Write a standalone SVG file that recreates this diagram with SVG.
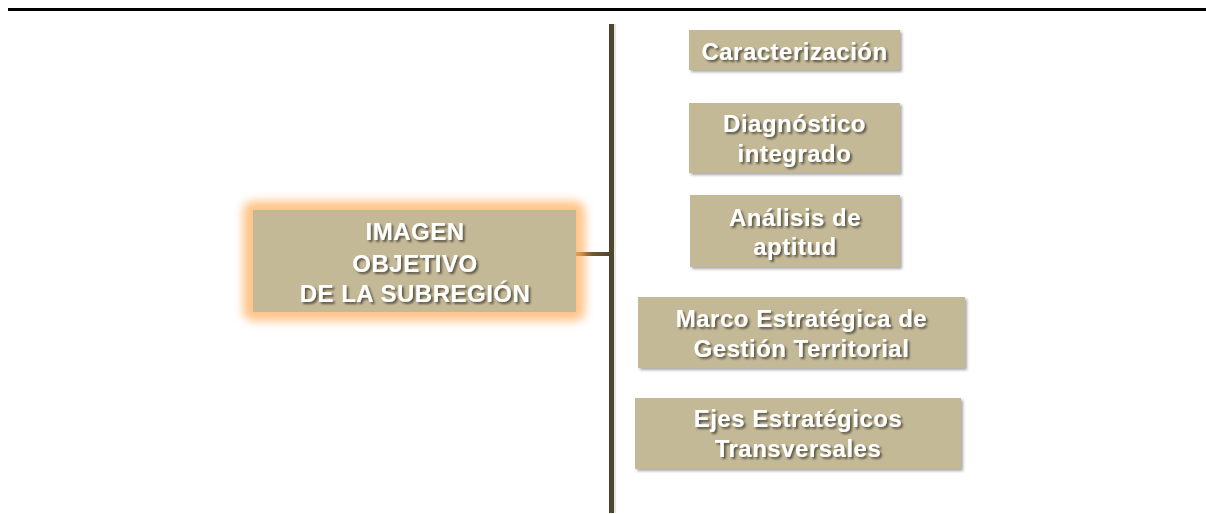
<svg xmlns="http://www.w3.org/2000/svg" width="1206" height="514" viewBox="0 0 1206 514">
<defs>
<style>
.box{fill:#c4b996;}
.t{font-family:"Liberation Sans",Arial,sans-serif;font-weight:bold;font-size:24px;letter-spacing:0.5px;fill:#ffffff;text-anchor:middle;filter:url(#ts);}
</style>
<filter id="bs" x="-10%" y="-20%" width="125%" height="150%">
<feGaussianBlur in="SourceAlpha" stdDeviation="1.5"/>
<feOffset dx="2" dy="2" result="o"/>
<feFlood flood-color="#000" flood-opacity="0.35"/>
<feComposite in2="o" operator="in"/>
<feMerge><feMergeNode/><feMergeNode in="SourceGraphic"/></feMerge>
</filter>
<filter id="ts" x="-10%" y="-30%" width="120%" height="160%">
<feGaussianBlur in="SourceAlpha" stdDeviation="1"/>
<feOffset dx="1.5" dy="1.5" result="o"/>
<feFlood flood-color="#000" flood-opacity="0.55"/>
<feComposite in2="o" operator="in"/>
<feMerge><feMergeNode/><feMergeNode in="SourceGraphic"/></feMerge>
</filter>
<filter id="glow" x="-20%" y="-40%" width="140%" height="180%">
<feGaussianBlur stdDeviation="5"/>
</filter>
<linearGradient id="hg" x1="0" y1="0" x2="1" y2="0">
<stop offset="0" stop-color="#8c6a28"/>
<stop offset="1" stop-color="#4f4630"/>
</linearGradient>
</defs>
<line x1="8" y1="9.5" x2="1206" y2="9.5" stroke="#000" stroke-width="3"/>
<g id="connectors">
<rect x="613" y="24" width="3" height="489" fill="#d0d0d8" opacity="0.6"/>
<rect x="609" y="24" width="5" height="489" fill="#4f4630"/>
<rect x="576" y="252" width="34" height="4" fill="url(#hg)"/>
</g>
<g id="main">
<rect x="243" y="201" width="342" height="120" rx="10" fill="#ffb060" opacity="0.75" filter="url(#glow)"/>
<rect x="253" y="210" width="323" height="102" class="box"/>
<text class="t" x="415" y="240">IMAGEN</text>
<text class="t" x="415" y="272">OBJETIVO</text>
<text class="t" x="415" y="302">DE LA SUBREGIÓN</text>
</g>
<g id="n1" filter="url(#bs)">
<rect x="689" y="30" width="211" height="40" class="box"/>
<text class="t" x="794.5" y="60">Caracterización</text>
</g>
<g id="n2" filter="url(#bs)">
<rect x="689" y="103" width="211" height="70" class="box"/>
<text class="t" x="794.5" y="132">Diagnóstico</text>
<text class="t" x="794.5" y="162">integrado</text>
</g>
<g id="n3" filter="url(#bs)">
<rect x="690" y="195" width="210" height="72" class="box"/>
<text class="t" x="795" y="226">Análisis de</text>
<text class="t" x="795" y="255">aptitud</text>
</g>
<g id="n4" filter="url(#bs)">
<rect x="638" y="297" width="327" height="71" class="box"/>
<text class="t" x="801.5" y="327">Marco Estratégica de</text>
<text class="t" x="801.5" y="357">Gestión Territorial</text>
</g>
<g id="n5" filter="url(#bs)">
<rect x="635" y="398" width="326" height="71" class="box"/>
<text class="t" x="798" y="427">Ejes Estratégicos</text>
<text class="t" x="798" y="457">Transversales</text>
</g>
</svg>
